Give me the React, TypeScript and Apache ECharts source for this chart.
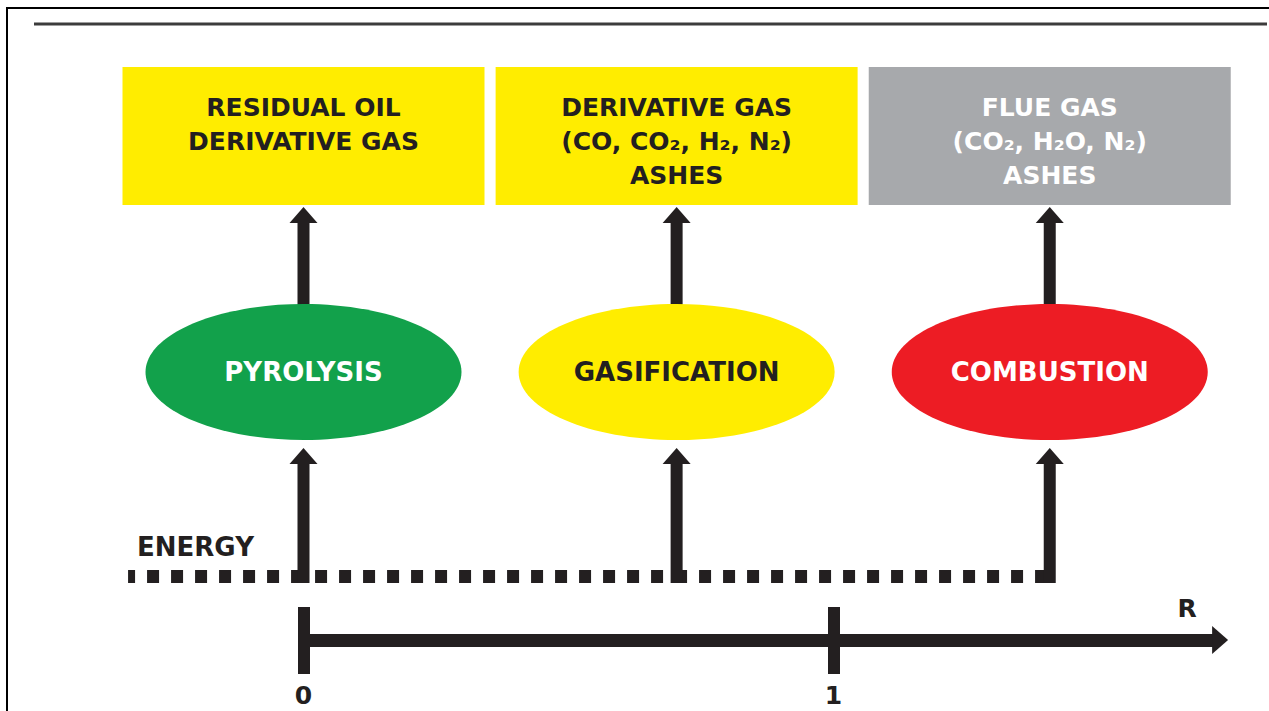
import React, { useEffect, useRef } from "react";
import * as echarts from "echarts";

// ---------- data ----------
const stageNames = ["PYROLYSIS", "GASIFICATION", "COMBUSTION"];
const stageR = [0, 0.704, 1.408];
const stageColors = ["#12A14B", "#FFED00", "#ED1C24"];
const stageTextColors = ["#FFFFFF", "#231F20", "#FFFFFF"];
const productLines = [
  ["RESIDUAL OIL", "DERIVATIVE GAS"],
  ["DERIVATIVE GAS", "(CO, CO₂, H₂, N₂)", "ASHES"],
  ["FLUE GAS", "(CO₂, H₂O, N₂)", "ASHES"],
];
const productColors = ["#FFED00", "#FFED00", "#A7A9AC"];
const productTextColors = ["#231F20", "#231F20", "#FFFFFF"];
const energyStartR = -0.331;
const energyLabel = "ENERGY";
const rTicks = [0, 1];
const rAxisMax = 1.72;
const rAxisName = "R";

// ---------- layout / style ----------
const W = 1269;
const H = 711;
const ORIGIN_X = 303.5;
const PX_PER_R = 530;
const DARK = "#231F20";
const FONT = "'DejaVu Sans', sans-serif";

export default function App() {
  const ref = useRef<HTMLDivElement>(null);

  useEffect(() => {
    if (!ref.current) return;
    const chart = echarts.init(ref.current, null, { renderer: "svg" });

    const stageData = stageR.map((r, i) => ({ value: [r, i] }));

    const option: any = {
      animation: false,
      backgroundColor: "#FFFFFF",
      textStyle: { fontFamily: FONT },
      grid: [
        { left: 0, top: 0, width: W, height: H, outerBoundsMode: "none" },
        { left: ORIGIN_X, top: 607, height: 33, width: rAxisMax * PX_PER_R, outerBoundsMode: "none" },
      ],
      xAxis: [
        {
          gridIndex: 0,
          type: "value",
          min: -ORIGIN_X / PX_PER_R,
          max: (W - ORIGIN_X) / PX_PER_R,
          show: false,
        },
        {
          gridIndex: 1,
          type: "value",
          position: "bottom",
          min: 0,
          max: rAxisMax,
          axisLine: {
            show: true,
            onZero: false,
            symbol: ["none", "none"],
            lineStyle: { color: DARK, width: 13, cap: "butt" },
          },
          axisTick: {
            show: true,
            customValues: rTicks,
            length: 34,
            lineStyle: { color: DARK, width: 12 },
          },
          axisLabel: {
            show: true,
            customValues: rTicks,
            margin: 55,
            verticalAlign: "middle",
            fontSize: 25,
            fontWeight: "bold",
            fontFamily: FONT,
            color: DARK,
          },
          splitLine: { show: false },
        },
        {
          gridIndex: 1,
          type: "value",
          position: "bottom",
          min: 0,
          max: rAxisMax,
          axisLine: { show: false, onZero: false },
          axisTick: {
            show: true,
            inside: true,
            customValues: rTicks,
            length: 33,
            lineStyle: { color: DARK, width: 12 },
          },
          axisLabel: { show: false },
          splitLine: { show: false },
        },
      ],
      yAxis: [
        { gridIndex: 0, type: "value", min: 0, max: H, inverse: true, show: false },
        { gridIndex: 1, type: "value", min: 0, max: 1, show: false },
      ],
      graphic: [
        {
          type: "rect",
          shape: { x: 7, y: 8, width: 1320, height: 800 },
          style: { fill: "none", stroke: "#000000", lineWidth: 2 },
          silent: true,
        },
        {
          type: "line",
          shape: { x1: 34, y1: 24, x2: 1267, y2: 24 },
          style: { stroke: "#3C3C3C", lineWidth: 3 },
          silent: true,
        },
        {
          type: "text",
          x: 1187,
          y: 608,
          style: {
            text: rAxisName,
            fontSize: 25,
            fontWeight: "bold",
            fontFamily: FONT,
            fill: DARK,
            align: "center",
            verticalAlign: "middle",
          },
          silent: true,
        },
      ],
      series: [
        {
          // arrowhead at the end of the R axis
          type: "custom",
          xAxisIndex: 1,
          yAxisIndex: 1,
          silent: true,
          data: [{ value: [rAxisMax, 0] }],
          renderItem: (params: any, api: any) => {
            const p = api.coord([api.value(0), api.value(1)]);
            return {
              type: "polygon",
              shape: { points: [[p[0] - 3, p[1] - 14], [p[0] + 13, p[1]], [p[0] - 3, p[1] + 14]] },
              style: { fill: DARK },
            };
          },
        },
        {
          type: "custom",
          xAxisIndex: 0,
          yAxisIndex: 0,
          silent: true,
          data: [{ value: [energyStartR, stageR[stageR.length - 1]] }],
          renderItem: (params: any, api: any) => {
            const p0 = api.coord([api.value(0), 576.5]);
            const p1 = api.coord([api.value(1), 576.5]);
            const lx = api.coord([energyStartR, 547]);
            return {
              type: "group",
              children: [
                {
                  type: "line",
                  shape: { x1: p0[0], y1: p0[1], x2: p1[0], y2: p1[1] },
                  style: {
                    stroke: DARK,
                    lineWidth: 13,
                    lineDash: [12, 12],
                    lineDashOffset: 5,
                  },
                },
                {
                  type: "text",
                  x: lx[0] + 9,
                  y: lx[1],
                  style: {
                    text: energyLabel,
                    fontSize: 26,
                    fontWeight: "bold",
                    fontFamily: FONT,
                    fill: DARK,
                    align: "left",
                    verticalAlign: "middle",
                  },
                },
              ],
            };
          },
        },
        {
          type: "custom",
          xAxisIndex: 0,
          yAxisIndex: 0,
          silent: true,
          data: stageData,
          renderItem: (params: any, api: any) => {
            const i = api.value(1);
            const r = api.value(0);
            const c = (y: number) => api.coord([r, y]);
            const cx = c(0)[0];
            const boxTop = c(67)[1];
            const boxBottom = c(205)[1];
            const halfBox = 181;
            const shaft = 12;
            const headHalf = 14;
            return {
              type: "group",
              children: [
                {
                  type: "rect",
                  shape: { x: cx - halfBox, y: boxTop, width: halfBox * 2, height: boxBottom - boxTop },
                  style: { fill: productColors[i] },
                },
                {
                  type: "text",
                  x: cx,
                  y: c(90)[1],
                  style: {
                    text: productLines[i].join("\n"),
                    fontSize: 25,
                    fontWeight: "bold",
                    fontFamily: FONT,
                    lineHeight: 34,
                    fill: productTextColors[i],
                    align: "center",
                    verticalAlign: "top",
                  },
                },
                // upper arrow
                {
                  type: "rect",
                  shape: { x: cx - shaft / 2, y: c(220)[1], width: shaft, height: c(308)[1] - c(220)[1] },
                  style: { fill: DARK },
                },
                {
                  type: "polygon",
                  shape: { points: [[cx - headHalf, c(223)[1]], [cx, c(207)[1]], [cx + headHalf, c(223)[1]]] },
                  style: { fill: DARK },
                },
                // lower arrow
                {
                  type: "rect",
                  shape: { x: cx - shaft / 2, y: c(461)[1], width: shaft, height: c(583)[1] - c(461)[1] },
                  style: { fill: DARK },
                },
                {
                  type: "polygon",
                  shape: { points: [[cx - headHalf, c(464)[1]], [cx, c(448)[1]], [cx + headHalf, c(464)[1]]] },
                  style: { fill: DARK },
                },
                // process ellipse
                {
                  type: "ellipse",
                  shape: { cx: cx, cy: c(372)[1], rx: 158, ry: 68 },
                  style: { fill: stageColors[i] },
                },
                {
                  type: "text",
                  x: cx,
                  y: c(372)[1],
                  style: {
                    text: stageNames[i],
                    fontSize: 26,
                    fontWeight: "bold",
                    fontFamily: FONT,
                    fill: stageTextColors[i],
                    align: "center",
                    verticalAlign: "middle",
                  },
                },
              ],
            };
          },
        },
      ],
    };

    chart.setOption(option);
    return () => chart.dispose();
  }, []);

  return (
    <div
      ref={ref}
      style={{ position: "absolute", left: 0, top: 0, width: W, height: H }}
    />
  );
}
